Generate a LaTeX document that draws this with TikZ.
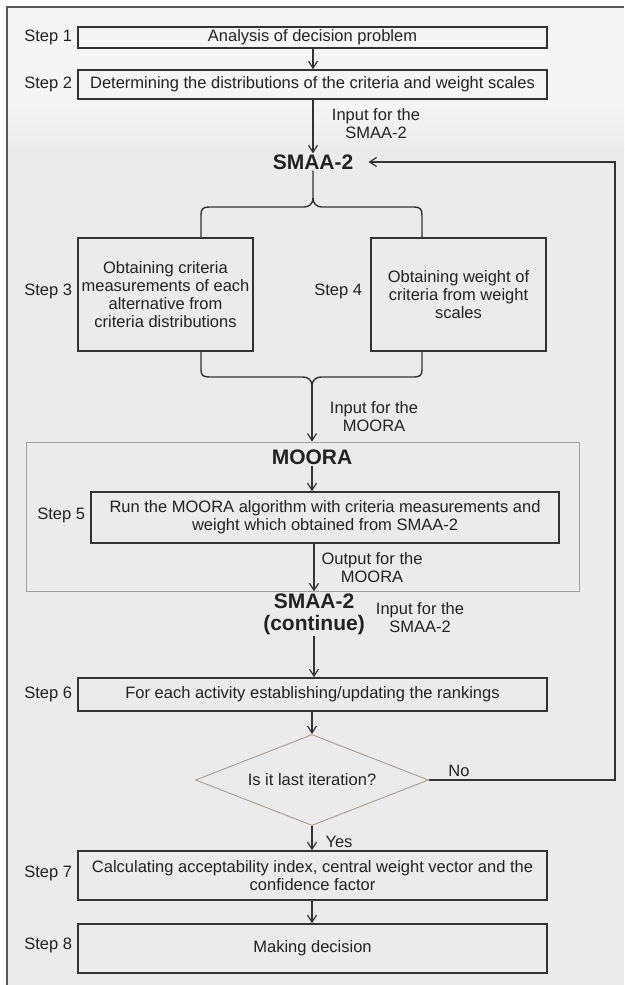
\documentclass[tikz,border=0pt]{standalone}
\usepackage{fontspec}
\setmainfont{Liberation Sans}
\usetikzlibrary{arrows.meta,shapes.geometric}
\definecolor{bgmain}{HTML}{EBEBEB}
\definecolor{bgtop}{HTML}{F5F5F5}
\definecolor{linec}{HTML}{333333}
\definecolor{framec}{HTML}{5A5A5A}
\definecolor{diac}{HTML}{A89C90}
\definecolor{contc}{HTML}{A0A0A0}
\definecolor{txtc}{HTML}{222222}
\newcommand\myfont{\fontsize{16.5}{18}\selectfont}
\newcommand\mybold{\fontsize{21}{22}\selectfont\bfseries}
\begin{document}
\begin{tikzpicture}[x=1pt,y=-1pt,
  stepbox/.style={draw=linec, line width=1.6pt, inner sep=0pt, align=center, font=\myfont, text=txtc},
  steplab/.style={anchor=east, inner sep=0pt, font=\myfont, text=txtc},
  note/.style={inner sep=0pt, align=center, font=\myfont, text=txtc},
  title/.style={inner sep=1pt, align=center, font=\mybold, text=txtc},
  arr/.style={draw=linec, line width=1.2pt, -{Straight Barb[length=7pt,width=9pt]}},
  conn/.style={draw=linec, line width=1.4pt}]
% canvas
\fill[white] (0,0) rectangle (624,985);
\useasboundingbox (0,0) rectangle (624,985);
\fill[bgmain] (7,7) rectangle (624,985);
\fill[bgtop] (7,7) rectangle (624,105);
\shade[top color=bgtop, bottom color=bgmain] (7,105) rectangle (624,150);
\draw[framec, line width=2pt] (7,985) -- (7,7) -- (624,7);

% nodes
\node[stepbox, minimum width=469, minimum height=21] (s1) at (312.5,37.5) {Analysis of decision problem};
\node[stepbox, minimum width=469, minimum height=29] (s2) at (312.5,84.5) {Determining the distributions of the criteria and weight scales};
\node[title] (smaa) at (313,162) {SMAA-2};
\node[stepbox, minimum width=175, minimum height=113] (s3) at (165.5,294.5) {Obtaining criteria\\measurements of each\\alternative from\\criteria distributions};
\node[stepbox, minimum width=175, minimum height=113] (s4) at (458.5,294.5) {Obtaining weight of\\criteria from weight\\scales};
\node[draw=contc, line width=0.8pt, minimum width=553, minimum height=149, inner sep=0pt] (mbox) at (302.5,516.5) {};
\node[title] (mtitle) at (312,457) {MOORA};
\node[stepbox, minimum width=468, minimum height=51] (s5) at (325,517.5) {Run the MOORA algorithm with criteria measurements and\\weight which obtained from SMAA-2};
\node[title] (cont) at (314,614) {SMAA-2\\(continue)};
\node[stepbox, minimum width=469, minimum height=33] (s6) at (312.5,694.5) {For each activity establishing/updating the rankings};
\node[diamond, shape aspect=2.56, draw=diac, line width=0.9pt, minimum width=233, minimum height=91, inner sep=0pt, font=\myfont, text=txtc] (dia) at (312,780) {Is it last iteration?};
\node[stepbox, minimum width=469, minimum height=49] (s7) at (312.5,875.5) {Calculating acceptability index, central weight vector and the\\confidence factor};
\node[stepbox, minimum width=469, minimum height=49] (s8) at (312.5,948.5) {Making decision};

% step labels
\node[steplab] (l1) at ([xshift=-5pt]s1.west) {Step 1};
\node[steplab] (l2) at ([xshift=-5pt]s2.west) {Step 2};
\node[steplab] (l3) at ([xshift=-5pt,yshift=3pt]s3.west) {Step 3};
\node[steplab] (l4) at ([xshift=-8pt,yshift=3pt]s4.west) {Step 4};
\node[steplab] (l5) at ([xshift=-5pt,yshift=2pt]s5.west) {Step 5};
\node[steplab] (l6) at ([xshift=-5pt]s6.west) {Step 6};
\node[steplab] (l7) at ([xshift=-5pt,yshift=2pt]s7.west) {Step 7};
\node[steplab] (l8) at ([xshift=-5pt,yshift=3pt]s8.west) {Step 8};

% notes
\node[note] (n1) at (376,124) {Input for the\\SMAA-2};
\node[note] (n2) at (374,417) {Input for the\\MOORA};
\node[note] (n3) at (372,568) {Output for the\\MOORA};
\node[note] (n4) at (420,618) {Input for the\\SMAA-2};
\node[note] (nno) at (459,771) {No};
\node[note] (nyes) at (339,842) {Yes};

% connectors
\draw[arr] (s1.south -| smaa) -- (s2.north -| smaa);
\draw[arr] (s2.south -| smaa) -- (smaa.north);

\coordinate (bl) at (201,0);
\coordinate (br) at (422,0);
\coordinate (tip) at (313,198);
\draw[conn] (s3.north -| bl) -- (201,215) .. controls (201,209) and (203,207) .. (209,207) -- (304,207) .. controls (309,207) and (313,204) .. (tip) -- (smaa.south);
\draw[conn] (s4.north -| br) -- (422,215) .. controls (422,209) and (420,207) .. (414,207) -- (322,207) .. controls (317,207) and (313,204) .. (tip);

\coordinate (btip) at (312,386);
\draw[conn] (s3.south -| bl) -- (201,370) .. controls (201,375) and (203,377) .. (209,377) -- (303,377) .. controls (308,377) and (312,380) .. (btip);
\draw[conn] (s4.south -| br) -- (422,370) .. controls (422,375) and (420,377) .. (414,377) -- (321,377) .. controls (316,377) and (312,380) .. (btip);
\draw[arr] (btip) -- (btip |- mbox.north);

\draw[arr] (mtitle.south) -- (mtitle.south |- s5.north);
\coordinate (ox) at (314,0);
\draw[arr] (s5.south -| ox) -- (mbox.south -| ox);
\draw[arr] (cont.south) -- (cont.south |- s6.north);
\draw[arr] (s6.south -| dia) -- (dia.north);
\draw[arr] (dia.south) -- (dia.south |- s7.north);
\draw[arr] (s7.south -| dia) -- (s8.north -| dia);

\coordinate (fb) at (615,780);
\draw[arr, shorten >=14pt] (dia.east) -- (fb) |- (smaa.east);
\end{tikzpicture}
\end{document}
